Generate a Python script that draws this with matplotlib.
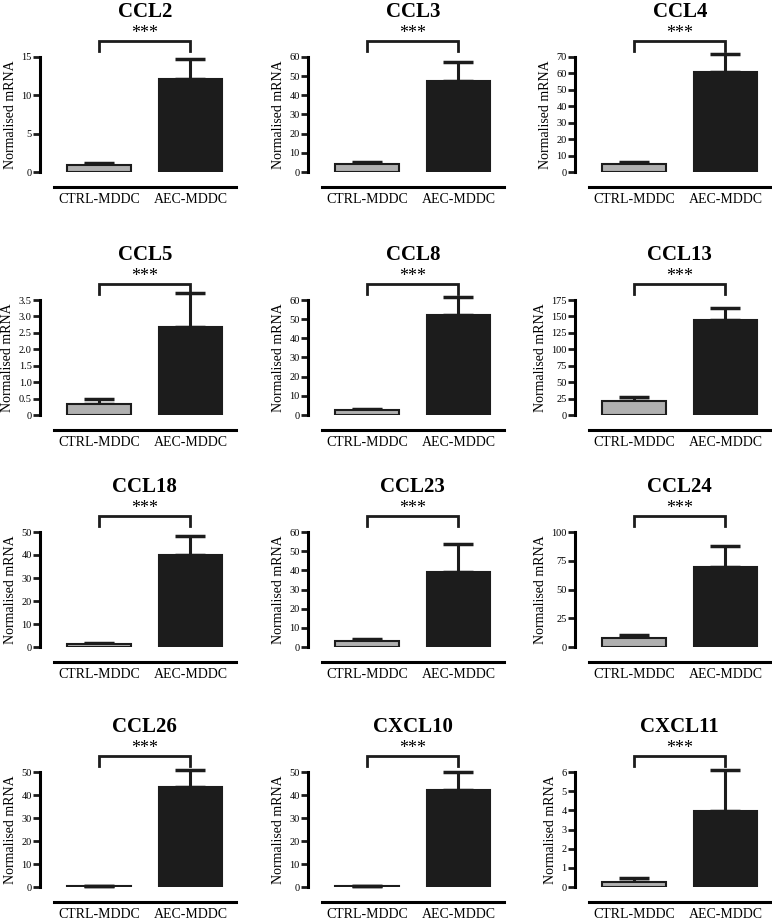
import matplotlib
matplotlib.use("Agg")
import matplotlib.pyplot as plt
import matplotlib.transforms as mtransforms

plt.rcParams["font.family"] = ["Liberation Serif", "DejaVu Serif"]

genes = ["CCL2", "CCL3", "CCL4", "CCL5", "CCL8", "CCL13",
         "CCL18", "CCL23", "CCL24", "CCL26", "CXCL10", "CXCL11"]
groups = ["CTRL-MDDC", "AEC-MDDC"]

ctrl_mean = [0.9, 4.2, 4.6, 0.33, 2.6, 20.6, 1.5, 3.1, 7.5, 0.5, 0.5, 0.26]
ctrl_err = [0.25, 0.9, 1.6, 0.16, 0.4, 6.2, 0.3, 0.9, 3.2, 0.1, 0.1, 0.21]
aec_mean = [12.1, 47.6, 61.1, 2.69, 52.4, 145, 40.1, 39.1, 69.6, 43.5, 42.1, 3.98]
aec_err = [2.7, 9.7, 10.9, 1.02, 9.0, 18.5, 8.3, 14.8, 17.9, 7.2, 8.0, 2.1]

ymax = [15, 60, 70, 3.5, 60, 175, 50, 60, 100, 50, 50, 6]
yticks = [
    [0, 5, 10, 15],
    [0, 10, 20, 30, 40, 50, 60],
    [0, 10, 20, 30, 40, 50, 60, 70],
    [0, 0.5, 1.0, 1.5, 2.0, 2.5, 3.0, 3.5],
    [0, 10, 20, 30, 40, 50, 60],
    [0, 25, 50, 75, 100, 125, 150, 175],
    [0, 10, 20, 30, 40, 50],
    [0, 10, 20, 30, 40, 50, 60],
    [0, 25, 50, 75, 100],
    [0, 10, 20, 30, 40, 50],
    [0, 10, 20, 30, 40, 50],
    [0, 1, 2, 3, 4, 5, 6],
]
ytick_labels = [
    ["0", "5", "10", "15"],
    None, None,
    ["0", "0.5", "1.0", "1.5", "2.0", "2.5", "3.0", "3.5"],
    None, None, None, None, None, None, None, None,
]

W, H = 772, 922
col_left = [40, 308, 575]
row_top = [57, 300, 532, 772]
ax_w, ax_h = 196, 115

fig = plt.figure(figsize=(W / 100, H / 100), dpi=100)

for i, gene in enumerate(genes):
    r, c = divmod(i, 3)
    ax = fig.add_axes([col_left[c] / W, (H - row_top[r] - ax_h) / H, ax_w / W, ax_h / H])

    x = [0, 1]
    ax.bar(x, [ctrl_mean[i], aec_mean[i]], width=0.7,
           color=["#b0b0b0", "#1c1c1c"], edgecolor="#1c1c1c", linewidth=1.5, zorder=3)
    eb = ax.errorbar(x, [ctrl_mean[i], aec_mean[i]],
                     yerr=[[0, 0], [ctrl_err[i], aec_err[i]]],
                     fmt="none", ecolor="#1c1c1c", elinewidth=2.2, capsize=11,
                     capthick=2.5, zorder=2)
    for art in eb.lines[1]:
        art.set_clip_on(False)
    for art in eb.lines[2]:
        art.set_clip_on(False)

    ax.set_xlim(-0.65, 1.5)
    ax.set_ylim(0, ymax[i])
    ax.set_xticks(x)
    ax.set_xticklabels(groups, fontsize=10.5)
    ax.set_yticks(yticks[i])
    if ytick_labels[i] is not None:
        ax.set_yticklabels(ytick_labels[i])
    ax.tick_params(axis="x", length=0, pad=4)
    ax.tick_params(axis="y", length=5, width=2, pad=1, labelsize=7.5, color="#1c1c1c")
    ax.set_ylabel("Normalised mRNA", fontsize=10, labelpad=3)

    for s in ["top", "right"]:
        ax.spines[s].set_visible(False)
    ax.spines["left"].set_linewidth(2.2)
    ax.spines["left"].set_bounds(0, ymax[i])
    ax.spines["bottom"].set_position(("outward", 11))
    ax.spines["bottom"].set_bounds(-0.5, 1.5)
    ax.spines["bottom"].set_linewidth(2.2)

    trans = mtransforms.blended_transform_factory(ax.transData, ax.transAxes)
    ax.plot([0, 0, 1, 1], [1.055, 1.14, 1.14, 1.055], color="#1c1c1c",
            lw=2, transform=trans, clip_on=False, solid_joinstyle="miter")
    ax.text(0.5, 1.165, "***", transform=trans, ha="center", va="baseline", fontsize=13)
    ax.text(0.5, 1.345, gene, transform=trans, ha="center", va="baseline",
            fontsize=15, fontweight="bold")

fig.savefig("out.png", dpi=100)
